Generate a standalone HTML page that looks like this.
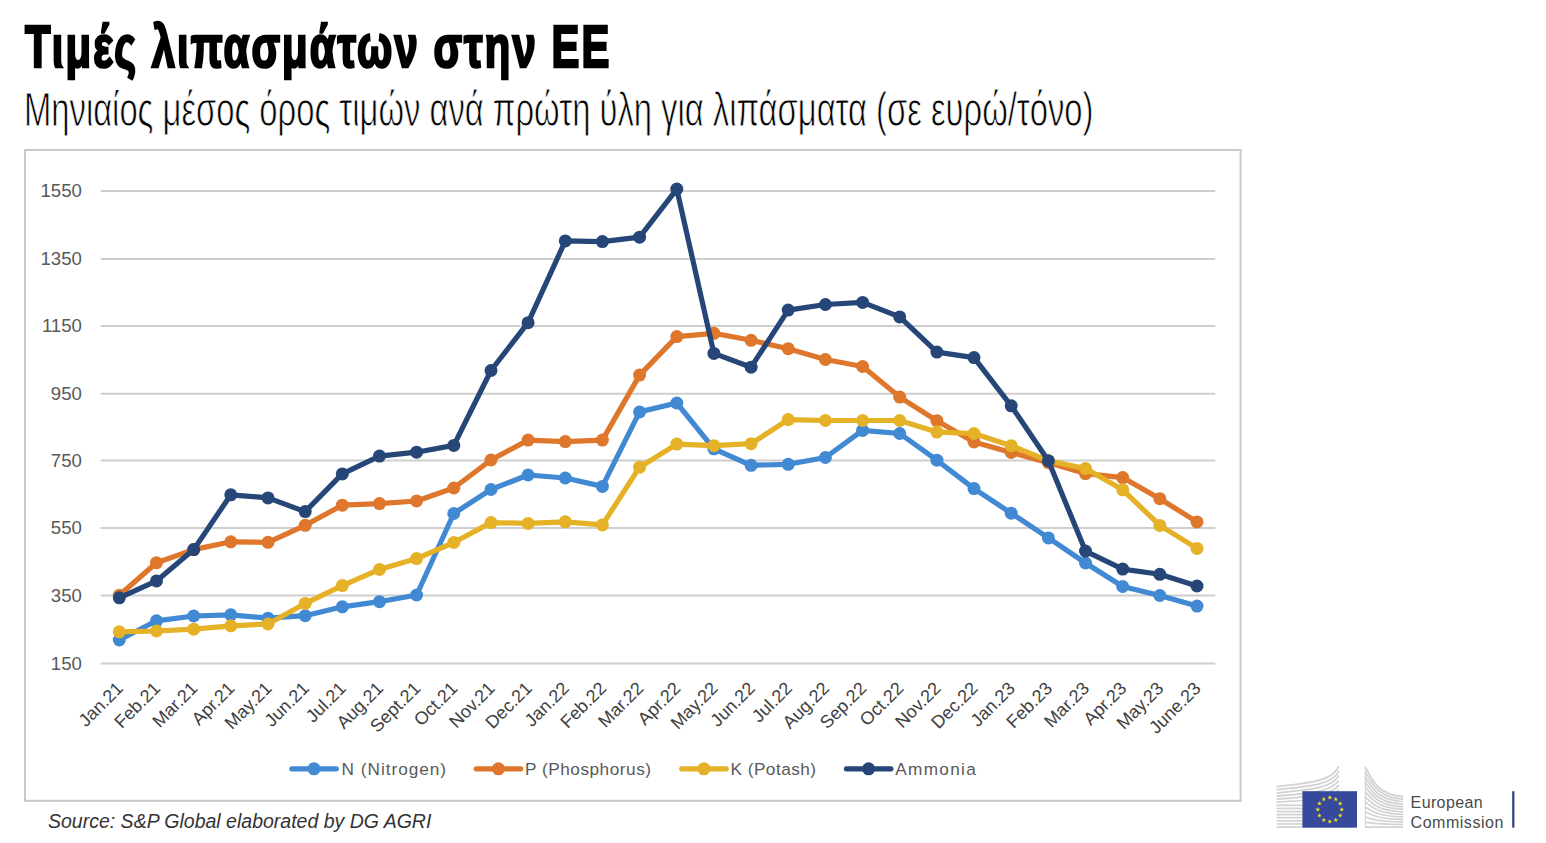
<!DOCTYPE html>
<html><head><meta charset="utf-8"><style>
html,body{margin:0;padding:0;background:#fff;width:1546px;height:843px;overflow:hidden;position:relative}
.t{position:absolute;white-space:nowrap;transform-origin:0 0;font-family:"Liberation Sans",sans-serif}
#title{left:24.5px;top:12px;font-weight:bold;font-size:59.5px;letter-spacing:3px;color:#000;transform:scaleX(0.7017);-webkit-text-stroke:2.6px #000}
#sub{left:24px;top:82px;font-size:48px;color:#000;transform:scaleX(0.6826);-webkit-text-stroke:0.9px #fff}
#src{left:48px;top:809.5px;font-style:italic;font-size:19.5px;color:#333}
svg{position:absolute;left:0;top:0}
</style></head><body>
<div class="t" id="title">Τιμές λιπασμάτων στην ΕΕ</div>
<div class="t" id="sub">Μηνιαίος μέσος όρος τιμών ανά πρώτη ύλη για λιπάσματα (σε ευρώ/τόνο)</div>
<svg width="1546" height="843" viewBox="0 0 1546 843" font-family="Liberation Sans, sans-serif">
<rect x="25" y="150" width="1215.6" height="650.8" fill="#fff" stroke="#c9c9c9" stroke-width="2"/>
<line x1="100.7" y1="190.90" x2="1215.3" y2="190.90" stroke="#cecece" stroke-width="2"/>
<line x1="100.7" y1="259.00" x2="1215.3" y2="259.00" stroke="#cecece" stroke-width="2"/>
<line x1="100.7" y1="326.00" x2="1215.3" y2="326.00" stroke="#cecece" stroke-width="2"/>
<line x1="100.7" y1="393.70" x2="1215.3" y2="393.70" stroke="#cecece" stroke-width="2"/>
<line x1="100.7" y1="460.50" x2="1215.3" y2="460.50" stroke="#cecece" stroke-width="2"/>
<line x1="100.7" y1="528.10" x2="1215.3" y2="528.10" stroke="#cecece" stroke-width="2"/>
<line x1="100.7" y1="595.40" x2="1215.3" y2="595.40" stroke="#cecece" stroke-width="2"/>
<line x1="100.7" y1="663.40" x2="1215.3" y2="663.40" stroke="#cecece" stroke-width="2"/>

<g font-size="18.6" fill="#595959">
<text x="81.9" y="197.1" text-anchor="end">1550</text>
<text x="81.9" y="265.2" text-anchor="end">1350</text>
<text x="81.9" y="332.2" text-anchor="end">1150</text>
<text x="81.9" y="399.9" text-anchor="end">950</text>
<text x="81.9" y="466.7" text-anchor="end">750</text>
<text x="81.9" y="534.3" text-anchor="end">550</text>
<text x="81.9" y="601.6" text-anchor="end">350</text>
<text x="81.9" y="669.6" text-anchor="end">150</text>
</g>
<g font-size="18" fill="#404040">
<text transform="translate(124.2,689.5) rotate(-45)" text-anchor="end">Jan.21</text>
<text transform="translate(161.4,689.5) rotate(-45)" text-anchor="end">Feb.21</text>
<text transform="translate(198.6,689.5) rotate(-45)" text-anchor="end">Mar.21</text>
<text transform="translate(235.7,689.5) rotate(-45)" text-anchor="end">Apr.21</text>
<text transform="translate(272.9,689.5) rotate(-45)" text-anchor="end">May.21</text>
<text transform="translate(310.1,689.5) rotate(-45)" text-anchor="end">Jun.21</text>
<text transform="translate(347.2,689.5) rotate(-45)" text-anchor="end">Jul.21</text>
<text transform="translate(384.4,689.5) rotate(-45)" text-anchor="end">Aug.21</text>
<text transform="translate(421.5,689.5) rotate(-45)" text-anchor="end">Sept.21</text>
<text transform="translate(458.7,689.5) rotate(-45)" text-anchor="end">Oct.21</text>
<text transform="translate(495.9,689.5) rotate(-45)" text-anchor="end">Nov.21</text>
<text transform="translate(533.0,689.5) rotate(-45)" text-anchor="end">Dec.21</text>
<text transform="translate(570.2,689.5) rotate(-45)" text-anchor="end">Jan.22</text>
<text transform="translate(607.3,689.5) rotate(-45)" text-anchor="end">Feb.22</text>
<text transform="translate(644.5,689.5) rotate(-45)" text-anchor="end">Mar.22</text>
<text transform="translate(681.7,689.5) rotate(-45)" text-anchor="end">Apr.22</text>
<text transform="translate(718.8,689.5) rotate(-45)" text-anchor="end">May.22</text>
<text transform="translate(756.0,689.5) rotate(-45)" text-anchor="end">Jun.22</text>
<text transform="translate(793.1,689.5) rotate(-45)" text-anchor="end">Jul.22</text>
<text transform="translate(830.3,689.5) rotate(-45)" text-anchor="end">Aug.22</text>
<text transform="translate(867.5,689.5) rotate(-45)" text-anchor="end">Sep.22</text>
<text transform="translate(904.6,689.5) rotate(-45)" text-anchor="end">Oct.22</text>
<text transform="translate(941.8,689.5) rotate(-45)" text-anchor="end">Nov.22</text>
<text transform="translate(978.9,689.5) rotate(-45)" text-anchor="end">Dec.22</text>
<text transform="translate(1016.1,689.5) rotate(-45)" text-anchor="end">Jan.23</text>
<text transform="translate(1053.3,689.5) rotate(-45)" text-anchor="end">Feb.23</text>
<text transform="translate(1090.4,689.5) rotate(-45)" text-anchor="end">Mar.23</text>
<text transform="translate(1127.6,689.5) rotate(-45)" text-anchor="end">Apr.23</text>
<text transform="translate(1164.7,689.5) rotate(-45)" text-anchor="end">May.23</text>
<text transform="translate(1201.9,689.5) rotate(-45)" text-anchor="end">June.23</text>
</g>
<polyline points="119.3,640.0 156.5,620.8 193.7,616.0 230.8,614.8 268.0,618.2 305.2,615.7 342.3,606.8 379.5,601.7 416.6,595.0 453.8,513.5 491.0,489.5 528.1,475.0 565.3,478.0 602.4,486.4 639.6,411.9 676.8,403.0 713.9,448.8 751.1,465.3 788.2,464.3 825.4,457.5 862.6,430.4 899.7,433.5 936.9,460.2 974.0,488.6 1011.2,513.2 1048.4,537.9 1085.5,563.0 1122.7,586.5 1159.8,595.5 1197.0,606.1" fill="none" stroke="#4189d3" stroke-width="5.2" stroke-linejoin="round" stroke-linecap="round"/>
<circle cx="119.3" cy="640.0" r="6.5" fill="#4189d3"/><circle cx="156.5" cy="620.8" r="6.5" fill="#4189d3"/><circle cx="193.7" cy="616.0" r="6.5" fill="#4189d3"/><circle cx="230.8" cy="614.8" r="6.5" fill="#4189d3"/><circle cx="268.0" cy="618.2" r="6.5" fill="#4189d3"/><circle cx="305.2" cy="615.7" r="6.5" fill="#4189d3"/><circle cx="342.3" cy="606.8" r="6.5" fill="#4189d3"/><circle cx="379.5" cy="601.7" r="6.5" fill="#4189d3"/><circle cx="416.6" cy="595.0" r="6.5" fill="#4189d3"/><circle cx="453.8" cy="513.5" r="6.5" fill="#4189d3"/><circle cx="491.0" cy="489.5" r="6.5" fill="#4189d3"/><circle cx="528.1" cy="475.0" r="6.5" fill="#4189d3"/><circle cx="565.3" cy="478.0" r="6.5" fill="#4189d3"/><circle cx="602.4" cy="486.4" r="6.5" fill="#4189d3"/><circle cx="639.6" cy="411.9" r="6.5" fill="#4189d3"/><circle cx="676.8" cy="403.0" r="6.5" fill="#4189d3"/><circle cx="713.9" cy="448.8" r="6.5" fill="#4189d3"/><circle cx="751.1" cy="465.3" r="6.5" fill="#4189d3"/><circle cx="788.2" cy="464.3" r="6.5" fill="#4189d3"/><circle cx="825.4" cy="457.5" r="6.5" fill="#4189d3"/><circle cx="862.6" cy="430.4" r="6.5" fill="#4189d3"/><circle cx="899.7" cy="433.5" r="6.5" fill="#4189d3"/><circle cx="936.9" cy="460.2" r="6.5" fill="#4189d3"/><circle cx="974.0" cy="488.6" r="6.5" fill="#4189d3"/><circle cx="1011.2" cy="513.2" r="6.5" fill="#4189d3"/><circle cx="1048.4" cy="537.9" r="6.5" fill="#4189d3"/><circle cx="1085.5" cy="563.0" r="6.5" fill="#4189d3"/><circle cx="1122.7" cy="586.5" r="6.5" fill="#4189d3"/><circle cx="1159.8" cy="595.5" r="6.5" fill="#4189d3"/><circle cx="1197.0" cy="606.1" r="6.5" fill="#4189d3"/>
<polyline points="119.3,595.3 156.5,562.7 193.7,549.6 230.8,541.8 268.0,542.3 305.2,525.3 342.3,505.2 379.5,503.6 416.6,501.0 453.8,488.0 491.0,460.0 528.1,440.1 565.3,441.6 602.4,440.1 639.6,375.1 676.8,336.6 713.9,333.3 751.1,340.3 788.2,348.7 825.4,359.5 862.6,366.5 899.7,397.1 936.9,420.7 974.0,441.9 1011.2,452.5 1048.4,462.7 1085.5,473.6 1122.7,477.6 1159.8,498.7 1197.0,521.9" fill="none" stroke="#de762c" stroke-width="5.2" stroke-linejoin="round" stroke-linecap="round"/>
<circle cx="119.3" cy="595.3" r="6.5" fill="#de762c"/><circle cx="156.5" cy="562.7" r="6.5" fill="#de762c"/><circle cx="193.7" cy="549.6" r="6.5" fill="#de762c"/><circle cx="230.8" cy="541.8" r="6.5" fill="#de762c"/><circle cx="268.0" cy="542.3" r="6.5" fill="#de762c"/><circle cx="305.2" cy="525.3" r="6.5" fill="#de762c"/><circle cx="342.3" cy="505.2" r="6.5" fill="#de762c"/><circle cx="379.5" cy="503.6" r="6.5" fill="#de762c"/><circle cx="416.6" cy="501.0" r="6.5" fill="#de762c"/><circle cx="453.8" cy="488.0" r="6.5" fill="#de762c"/><circle cx="491.0" cy="460.0" r="6.5" fill="#de762c"/><circle cx="528.1" cy="440.1" r="6.5" fill="#de762c"/><circle cx="565.3" cy="441.6" r="6.5" fill="#de762c"/><circle cx="602.4" cy="440.1" r="6.5" fill="#de762c"/><circle cx="639.6" cy="375.1" r="6.5" fill="#de762c"/><circle cx="676.8" cy="336.6" r="6.5" fill="#de762c"/><circle cx="713.9" cy="333.3" r="6.5" fill="#de762c"/><circle cx="751.1" cy="340.3" r="6.5" fill="#de762c"/><circle cx="788.2" cy="348.7" r="6.5" fill="#de762c"/><circle cx="825.4" cy="359.5" r="6.5" fill="#de762c"/><circle cx="862.6" cy="366.5" r="6.5" fill="#de762c"/><circle cx="899.7" cy="397.1" r="6.5" fill="#de762c"/><circle cx="936.9" cy="420.7" r="6.5" fill="#de762c"/><circle cx="974.0" cy="441.9" r="6.5" fill="#de762c"/><circle cx="1011.2" cy="452.5" r="6.5" fill="#de762c"/><circle cx="1048.4" cy="462.7" r="6.5" fill="#de762c"/><circle cx="1085.5" cy="473.6" r="6.5" fill="#de762c"/><circle cx="1122.7" cy="477.6" r="6.5" fill="#de762c"/><circle cx="1159.8" cy="498.7" r="6.5" fill="#de762c"/><circle cx="1197.0" cy="521.9" r="6.5" fill="#de762c"/>
<polyline points="119.3,631.8 156.5,631.0 193.7,629.2 230.8,625.8 268.0,624.0 305.2,603.4 342.3,585.6 379.5,569.4 416.6,558.6 453.8,542.5 491.0,522.6 528.1,523.4 565.3,521.8 602.4,524.9 639.6,467.2 676.8,444.1 713.9,445.7 751.1,443.7 788.2,419.6 825.4,420.5 862.6,420.5 899.7,420.5 936.9,432.1 974.0,433.5 1011.2,445.7 1048.4,460.8 1085.5,468.6 1122.7,489.8 1159.8,525.4 1197.0,548.4" fill="none" stroke="#e4b127" stroke-width="5.2" stroke-linejoin="round" stroke-linecap="round"/>
<circle cx="119.3" cy="631.8" r="6.5" fill="#e4b127"/><circle cx="156.5" cy="631.0" r="6.5" fill="#e4b127"/><circle cx="193.7" cy="629.2" r="6.5" fill="#e4b127"/><circle cx="230.8" cy="625.8" r="6.5" fill="#e4b127"/><circle cx="268.0" cy="624.0" r="6.5" fill="#e4b127"/><circle cx="305.2" cy="603.4" r="6.5" fill="#e4b127"/><circle cx="342.3" cy="585.6" r="6.5" fill="#e4b127"/><circle cx="379.5" cy="569.4" r="6.5" fill="#e4b127"/><circle cx="416.6" cy="558.6" r="6.5" fill="#e4b127"/><circle cx="453.8" cy="542.5" r="6.5" fill="#e4b127"/><circle cx="491.0" cy="522.6" r="6.5" fill="#e4b127"/><circle cx="528.1" cy="523.4" r="6.5" fill="#e4b127"/><circle cx="565.3" cy="521.8" r="6.5" fill="#e4b127"/><circle cx="602.4" cy="524.9" r="6.5" fill="#e4b127"/><circle cx="639.6" cy="467.2" r="6.5" fill="#e4b127"/><circle cx="676.8" cy="444.1" r="6.5" fill="#e4b127"/><circle cx="713.9" cy="445.7" r="6.5" fill="#e4b127"/><circle cx="751.1" cy="443.7" r="6.5" fill="#e4b127"/><circle cx="788.2" cy="419.6" r="6.5" fill="#e4b127"/><circle cx="825.4" cy="420.5" r="6.5" fill="#e4b127"/><circle cx="862.6" cy="420.5" r="6.5" fill="#e4b127"/><circle cx="899.7" cy="420.5" r="6.5" fill="#e4b127"/><circle cx="936.9" cy="432.1" r="6.5" fill="#e4b127"/><circle cx="974.0" cy="433.5" r="6.5" fill="#e4b127"/><circle cx="1011.2" cy="445.7" r="6.5" fill="#e4b127"/><circle cx="1048.4" cy="460.8" r="6.5" fill="#e4b127"/><circle cx="1085.5" cy="468.6" r="6.5" fill="#e4b127"/><circle cx="1122.7" cy="489.8" r="6.5" fill="#e4b127"/><circle cx="1159.8" cy="525.4" r="6.5" fill="#e4b127"/><circle cx="1197.0" cy="548.4" r="6.5" fill="#e4b127"/>
<polyline points="119.3,597.8 156.5,580.9 193.7,549.6 230.8,494.8 268.0,497.9 305.2,511.6 342.3,473.9 379.5,456.1 416.6,452.2 453.8,445.4 491.0,370.5 528.1,322.7 565.3,240.9 602.4,241.6 639.6,237.2 676.8,189.1 713.9,353.4 751.1,367.2 788.2,310.1 825.4,304.5 862.6,302.4 899.7,316.9 936.9,352.1 974.0,357.6 1011.2,405.8 1048.4,460.8 1085.5,551.1 1122.7,569.1 1159.8,574.3 1197.0,586.0" fill="none" stroke="#254677" stroke-width="5.2" stroke-linejoin="round" stroke-linecap="round"/>
<circle cx="119.3" cy="597.8" r="6.5" fill="#254677"/><circle cx="156.5" cy="580.9" r="6.5" fill="#254677"/><circle cx="193.7" cy="549.6" r="6.5" fill="#254677"/><circle cx="230.8" cy="494.8" r="6.5" fill="#254677"/><circle cx="268.0" cy="497.9" r="6.5" fill="#254677"/><circle cx="305.2" cy="511.6" r="6.5" fill="#254677"/><circle cx="342.3" cy="473.9" r="6.5" fill="#254677"/><circle cx="379.5" cy="456.1" r="6.5" fill="#254677"/><circle cx="416.6" cy="452.2" r="6.5" fill="#254677"/><circle cx="453.8" cy="445.4" r="6.5" fill="#254677"/><circle cx="491.0" cy="370.5" r="6.5" fill="#254677"/><circle cx="528.1" cy="322.7" r="6.5" fill="#254677"/><circle cx="565.3" cy="240.9" r="6.5" fill="#254677"/><circle cx="602.4" cy="241.6" r="6.5" fill="#254677"/><circle cx="639.6" cy="237.2" r="6.5" fill="#254677"/><circle cx="676.8" cy="189.1" r="6.5" fill="#254677"/><circle cx="713.9" cy="353.4" r="6.5" fill="#254677"/><circle cx="751.1" cy="367.2" r="6.5" fill="#254677"/><circle cx="788.2" cy="310.1" r="6.5" fill="#254677"/><circle cx="825.4" cy="304.5" r="6.5" fill="#254677"/><circle cx="862.6" cy="302.4" r="6.5" fill="#254677"/><circle cx="899.7" cy="316.9" r="6.5" fill="#254677"/><circle cx="936.9" cy="352.1" r="6.5" fill="#254677"/><circle cx="974.0" cy="357.6" r="6.5" fill="#254677"/><circle cx="1011.2" cy="405.8" r="6.5" fill="#254677"/><circle cx="1048.4" cy="460.8" r="6.5" fill="#254677"/><circle cx="1085.5" cy="551.1" r="6.5" fill="#254677"/><circle cx="1122.7" cy="569.1" r="6.5" fill="#254677"/><circle cx="1159.8" cy="574.3" r="6.5" fill="#254677"/><circle cx="1197.0" cy="586.0" r="6.5" fill="#254677"/>

<g font-size="17.2" fill="#595959">
<line x1="291.8" y1="768.8" x2="336.3" y2="768.8" stroke="#4189d3" stroke-width="5.2" stroke-linecap="round"/><circle cx="314.0" cy="768.8" r="6.5" fill="#4189d3"/>
<text x="341.6" y="774.5" textLength="104.5" lengthAdjust="spacing">N (Nitrogen)</text>
<line x1="476.2" y1="768.8" x2="520.7" y2="768.8" stroke="#de762c" stroke-width="5.2" stroke-linecap="round"/><circle cx="498.4" cy="768.8" r="6.5" fill="#de762c"/>
<text x="525" y="774.5" textLength="126" lengthAdjust="spacing">P (Phosphorus)</text>
<line x1="681.7" y1="768.8" x2="726.2" y2="768.8" stroke="#e4b127" stroke-width="5.2" stroke-linecap="round"/><circle cx="703.9000000000001" cy="768.8" r="6.5" fill="#e4b127"/>
<text x="730.5" y="774.5" textLength="85.5" lengthAdjust="spacing">K (Potash)</text>
<line x1="846.4" y1="768.8" x2="890.9" y2="768.8" stroke="#254677" stroke-width="5.2" stroke-linecap="round"/><circle cx="868.6" cy="768.8" r="6.5" fill="#254677"/>
<text x="895.3" y="774.5" textLength="80.5" lengthAdjust="spacing">Ammonia</text>
</g>
<g transform="translate(1270,760) scale(0.09058)" fill="none" stroke="#d2d2d2" stroke-width="19"><path d="M72,295 C450,252 690,232 760,70"/><path d="M72,329 C450,290 690,270 760,122"/><path d="M72,363 C450,329 690,309 760,173"/><path d="M72,398 C450,367 690,347 760,225"/><path d="M72,432 C450,406 690,386 760,276"/><path d="M72,466 C450,444 690,424 760,328"/><path d="M72,500 L360,500"/><path d="M72,535 L360,535"/><path d="M72,569 L360,569"/><path d="M72,603 L360,603"/><path d="M72,637 L360,637"/><path d="M72,672 L360,672"/><path d="M72,706 L360,706"/><path d="M72,740 L360,740"/><path d="M1050,75 C1150,256 1200,380 1470,405"/><path d="M1050,130 C1150,297 1200,410 1470,433"/><path d="M1050,186 C1150,337 1200,440 1470,461"/><path d="M1050,241 C1150,377 1200,470 1470,489"/><path d="M1050,297 C1150,418 1200,500 1470,517"/><path d="M1050,352 C1150,458 1200,530 1470,545"/><path d="M1050,408 C1150,498 1200,560 1470,572"/><path d="M1050,463 C1150,539 1200,590 1470,600"/><path d="M1050,518 C1150,579 1200,620 1470,628"/><path d="M1050,574 C1150,619 1200,650 1470,656"/><path d="M1050,629 C1150,659 1200,680 1470,684"/><path d="M1050,685 C1150,700 1200,710 1470,712"/><path d="M1050,740 C1150,740 1200,740 1470,740"/><path d="M1052,75 L1052,740" stroke-width="12"/></g>
<rect x="1302.4" y="791.2" width="54.6" height="36.5" fill="#36499a"/>
<polygon points="1329.80,795.20 1330.39,796.79 1332.08,796.86 1330.75,797.91 1331.21,799.54 1329.80,798.60 1328.39,799.54 1328.85,797.91 1327.52,796.86 1329.21,796.79" fill="#f4e51c"/><polygon points="1335.80,796.81 1336.39,798.40 1338.08,798.47 1336.75,799.52 1337.21,801.15 1335.80,800.21 1334.39,801.15 1334.85,799.52 1333.52,798.47 1335.21,798.40" fill="#f4e51c"/><polygon points="1340.19,801.20 1340.78,802.79 1342.47,802.86 1341.14,803.91 1341.60,805.54 1340.19,804.60 1338.78,805.54 1339.24,803.91 1337.91,802.86 1339.60,802.79" fill="#f4e51c"/><polygon points="1341.80,807.20 1342.39,808.79 1344.08,808.86 1342.75,809.91 1343.21,811.54 1341.80,810.60 1340.39,811.54 1340.85,809.91 1339.52,808.86 1341.21,808.79" fill="#f4e51c"/><polygon points="1340.19,813.20 1340.78,814.79 1342.47,814.86 1341.14,815.91 1341.60,817.54 1340.19,816.60 1338.78,817.54 1339.24,815.91 1337.91,814.86 1339.60,814.79" fill="#f4e51c"/><polygon points="1335.80,817.59 1336.39,819.18 1338.08,819.25 1336.75,820.30 1337.21,821.93 1335.80,820.99 1334.39,821.93 1334.85,820.30 1333.52,819.25 1335.21,819.18" fill="#f4e51c"/><polygon points="1329.80,819.20 1330.39,820.79 1332.08,820.86 1330.75,821.91 1331.21,823.54 1329.80,822.60 1328.39,823.54 1328.85,821.91 1327.52,820.86 1329.21,820.79" fill="#f4e51c"/><polygon points="1323.80,817.59 1324.39,819.18 1326.08,819.25 1324.75,820.30 1325.21,821.93 1323.80,820.99 1322.39,821.93 1322.85,820.30 1321.52,819.25 1323.21,819.18" fill="#f4e51c"/><polygon points="1319.41,813.20 1320.00,814.79 1321.69,814.86 1320.36,815.91 1320.82,817.54 1319.41,816.60 1318.00,817.54 1318.46,815.91 1317.13,814.86 1318.82,814.79" fill="#f4e51c"/><polygon points="1317.80,807.20 1318.39,808.79 1320.08,808.86 1318.75,809.91 1319.21,811.54 1317.80,810.60 1316.39,811.54 1316.85,809.91 1315.52,808.86 1317.21,808.79" fill="#f4e51c"/><polygon points="1319.41,801.20 1320.00,802.79 1321.69,802.86 1320.36,803.91 1320.82,805.54 1319.41,804.60 1318.00,805.54 1318.46,803.91 1317.13,802.86 1318.82,802.79" fill="#f4e51c"/><polygon points="1323.80,796.81 1324.39,798.40 1326.08,798.47 1324.75,799.52 1325.21,801.15 1323.80,800.21 1322.39,801.15 1322.85,799.52 1321.52,798.47 1323.21,798.40" fill="#f4e51c"/>
<g font-size="16" fill="#4a4a4a">
<text x="1410.6" y="808.3" textLength="72" lengthAdjust="spacing">European</text>
<text x="1410.6" y="827.5" textLength="92.7" lengthAdjust="spacing">Commission</text>
</g>
<rect x="1512.2" y="791.2" width="2.2" height="36.5" fill="#2f3f86"/>
</svg>
<div class="t" id="src">Source: S&amp;P Global elaborated by DG AGRI</div>
</body></html>
